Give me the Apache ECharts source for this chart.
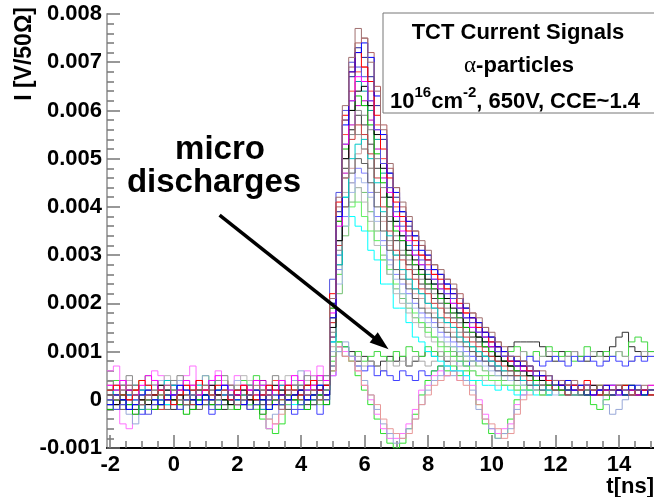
<!DOCTYPE html>
<html><head><meta charset="utf-8">
<script src="https://cdn.jsdelivr.net/npm/echarts@6/dist/echarts.min.js"></script>
<style>html,body{margin:0;padding:0;background:#fff}#c{width:654px;height:497px}</style>
</head><body><div id="c"></div>
<script>
// Histogram binning (ns)
const binStart = -2.1;
const binWidth = 0.2;
const nBins = 86;

// Current traces, amplitude in units of 1e-4 V/50Ω, one value per 0.2 ns bin
// main alpha signals
const m01 = [1,0,2,3,1,-1,0,2,1,3, 2,0,-1,1,2,3,1,0,2,1, -1,0,1,3,2,1,0,-2,1,2, 3,1,2,0,2,
  21,42,61,71,77,75,70,64,56,49, 44,41,38,35,33,31,28,27,25,24, 21,20,18,17,15,14,12,11,9,9, 8,7,6,6,5,4,4,3,4,2, 3,2,3,1,2,3,2,1,2,3,2];
const m02 = [-1,1,0,-2,-1,1,2,0,-1,0, 1,3,2,0,-1,1,0,2,3,1, 0,-1,1,2,0,-2,-1,1,0,1, 2,0,1,3,1,
  17,38,57,68,72,74,71,63,55,47, 43,39,37,34,31,30,27,26,24,22, 21,19,17,16,14,13,11,10,9,8, 7,7,6,5,5,4,3,4,2,3, 3,1,2,3,2,2,1,3,2,1,2];
const m03 = [2,3,1,0,2,4,3,1,2,0, -1,1,3,2,4,2,1,3,2,0, 2,3,1,0,1,3,2,1,3,2, 1,3,4,2,3,
  22,41,59,68,72,69,66,59,52,46, 41,38,35,33,30,29,26,25,23,22, 20,18,17,15,14,12,11,10,8,8, 7,6,6,5,4,4,3,3,3,2, 4,2,1,3,2,2,3,1,2,2,1];
const m04 = [0,-2,-1,1,0,-1,-3,-1,0,1, -1,-2,0,1,-1,0,-2,-1,1,0, -1,0,-2,-1,1,0,1,-1,0,-2, -1,1,0,2,0,
  25,43,60,70,69,67,62,56,49,44, 39,36,34,31,29,27,25,24,22,21, 19,17,16,14,13,12,10,9,8,7, 7,6,5,5,4,3,4,2,3,3, 1,2,2,3,1,2,2,1,3,2,2];
const m05 = [3,2,4,2,1,3,5,4,2,3, 1,2,4,3,1,2,4,5,3,2, 1,3,2,4,3,1,2,4,3,5, 4,2,3,5,4,
  18,36,53,62,67,66,62,56,49,43, 38,35,33,30,28,27,25,23,22,20, 19,17,15,14,13,11,10,9,8,7, 6,6,5,5,4,4,3,3,2,2, 3,1,2,2,3,1,2,2,1,2,3];
const m06 = [1,-1,0,2,1,0,-1,1,3,2, 0,1,-1,0,2,1,3,1,0,-1, 1,2,0,-1,0,1,3,2,0,1, 2,3,1,2,3,
  15,33,50,60,64,65,61,55,48,42, 37,34,31,29,27,25,24,22,21,19, 18,16,15,13,12,11,9,8,7,7, 6,5,5,4,4,3,3,2,3,2, 1,3,2,2,1,2,3,2,1,2,2];
const m07 = [-2,0,1,-1,-3,-1,0,-2,-1,1, 0,-1,-3,-2,0,1,-1,-2,0,-1, -2,0,1,-1,-3,-2,0,-1,1,0, -1,-2,0,1,-1,
  19,37,52,60,63,61,57,51,45,40, 35,33,30,28,26,24,23,21,20,18, 17,15,14,13,11,10,9,8,7,6, 6,5,4,4,3,3,2,3,2,2, 1,2,3,1,2,2,1,3,2,1,2];
const m08 = [4,2,3,5,3,1,2,4,3,2, 4,5,3,2,1,3,2,4,5,3, 2,1,3,4,2,3,5,4,2,3, 4,5,3,4,5,
  14,31,46,55,60,59,56,50,44,38, 34,31,29,27,25,23,22,20,19,17, 16,14,13,12,11,10,9,8,7,6, 5,5,4,3,3,3,2,2,1,3, 2,2,1,2,2,3,1,2,2,1,2];
const m09 = [0,1,-1,0,2,0,1,-1,-2,0, 1,2,0,-1,1,0,-1,1,2,0, 1,-1,0,2,1,0,-1,0,1,2, 0,1,2,0,1,
  16,32,46,54,57,55,51,46,40,35, 31,29,27,25,23,22,20,19,17,16, 15,13,12,11,10,9,8,7,6,5, 5,4,4,3,3,2,2,1,2,2, 3,1,2,1,2,2,1,2,1,2,1];
const m10 = [2,1,0,1,3,2,0,1,2,4, 3,1,0,2,1,3,4,2,1,0, 2,1,3,2,0,1,2,3,1,2, 3,2,4,3,2,
  12,28,42,50,53,54,50,45,39,34, 30,27,25,23,22,20,19,17,16,15, 13,12,11,10,9,8,7,6,6,5, 4,4,3,3,2,2,3,2,1,2, 1,2,2,1,3,1,2,1,2,1,1];
const m11 = [-1,0,-2,-1,1,-1,0,1,-1,-2, 0,-1,1,0,-2,-1,0,1,-1,0, 1,-1,-2,0,-1,1,0,-1,-2,0, 1,0,-1,1,2,
  13,28,40,47,50,49,45,40,35,31, 27,25,23,21,19,18,17,15,14,13, 12,11,10,9,8,7,6,5,5,4, 4,3,3,2,3,2,2,1,2,1, 2,1,1,2,1,2,1,1,2,1,2];
const m12 = [1,3,2,1,0,2,1,3,4,2, 1,0,2,3,1,2,0,1,3,2, 4,2,1,0,2,3,1,2,0,1, 3,2,1,3,2,
  10,24,36,43,46,45,42,37,32,28, 25,22,20,19,17,16,15,13,12,11, 10,9,8,8,7,6,5,5,4,4, 3,3,2,2,2,1,2,1,2,1, 1,2,1,1,2,1,1,2,1,1,1];
const m13 = [2,1,3,0,-1,1,2,3,1,0, -1,1,2,0,3,2,1,-1,0,2, 3,1,0,2,1,-1,1,2,3,1, 0,2,3,1,2,
  19,40,58,69,74,75,72,65,57,48, 44,40,37,35,32,30,28,26,25,23, 22,19,18,16,15,13,12,10,9,8, 8,7,6,5,5,4,3,3,2,3, 2,3,1,2,2,3,2,1,2,2,3];
const m14 = [-1,0,1,-2,0,2,1,-1,0,1, 3,1,0,-1,1,2,0,1,-1,0, 2,1,-1,0,1,2,0,-1,1,3, 2,0,1,2,1,
  20,39,58,67,73,71,67,61,54,47, 42,39,36,34,32,29,27,26,24,23, 21,19,17,16,14,13,11,10,9,8, 8,6,6,5,4,4,3,3,2,2, 3,2,1,2,3,2,1,2,2,1,2];
const m15 = [3,1,2,0,2,1,3,4,2,1, 0,2,1,3,2,0,1,2,4,3, 1,2,0,1,3,2,4,1,2,0, 2,1,3,2,3,
  16,37,55,64,68,69,64,57,50,44, 40,37,34,32,30,28,26,24,23,21, 19,18,16,15,13,12,11,9,8,7, 7,6,5,4,4,3,3,2,3,2, 2,1,3,2,1,2,2,3,1,2,2];
const m16 = [0,2,-1,1,0,-2,1,0,2,-1, 1,0,-1,2,0,1,-1,0,1,2, 0,-1,1,0,-2,0,1,2,0,1, -1,1,0,1,2,
  20,38,53,62,66,64,60,54,47,42, 37,34,32,30,28,26,24,23,21,20, 18,17,15,14,12,11,10,9,8,7, 6,6,5,4,4,3,3,2,2,2, 3,1,2,2,1,2,1,3,2,1,2];
const m17 = [1,3,2,4,2,0,1,3,2,1, 3,2,0,1,4,2,3,1,0,2, 1,3,2,1,4,2,0,3,2,1, 2,4,2,3,2,
  13,30,47,57,61,62,58,52,46,40, 36,33,30,28,26,24,23,21,20,18, 17,15,14,13,11,10,9,8,7,6, 6,5,4,4,3,3,2,2,3,1, 2,2,1,2,3,1,2,2,1,2,1];
const m18 = [-2,-1,0,1,-1,0,-2,1,0,-1, 0,1,-1,-2,0,-1,1,0,-1,0, -1,1,0,-2,-1,0,1,-1,0,1, 0,-1,1,0,1,
  17,33,48,56,59,57,53,48,42,37, 33,30,28,26,24,23,21,20,18,17, 16,14,13,12,11,9,8,8,7,6, 5,5,4,3,3,2,3,2,2,1, 2,2,1,2,1,2,2,1,2,1,1];
const m19 = [2,0,1,3,1,2,0,1,3,2, 0,1,2,1,-1,0,2,3,1,0, 2,1,3,0,1,2,1,0,2,3, 1,2,0,3,2,
  20,37,50,56,55,52,48,43,38,33, 30,27,25,23,22,20,19,17,16,15, 14,12,11,10,9,8,7,6,6,5, 4,4,3,3,2,2,2,1,2,2, 1,2,1,2,2,1,1,2,1,2,1];
const m20 = [1,-1,0,2,3,1,-1,0,1,2, 0,-1,1,3,1,0,2,1,-1,1, 0,2,1,-1,0,1,3,2,0,1, 2,1,0,2,1,
  11,26,40,48,51,52,48,43,37,32, 29,26,24,22,21,19,18,16,15,14, 13,12,10,9,9,8,7,6,5,5, 4,4,3,3,2,2,2,1,2,1, 2,1,2,1,1,2,1,2,1,1,2];
const m21 = [0,1,3,2,0,1,2,0,-1,1, 2,3,1,0,1,2,0,2,3,1, -1,0,2,1,0,3,1,2,1,0, 3,2,1,2,3,
  12,27,38,45,48,47,43,38,33,29, 26,24,22,20,18,17,16,14,13,12, 11,10,9,8,8,7,6,5,5,4, 4,3,3,2,2,2,1,2,1,1, 2,1,1,2,1,1,2,1,1,2,1];
const m22 = [-1,0,2,1,-1,0,1,-1,0,2, 1,-1,0,1,2,0,-1,1,0,-2, 0,1,-1,0,2,1,0,-1,1,0, 2,0,1,-1,1,
  9,22,34,41,44,43,39,35,30,26, 23,21,19,17,16,15,13,12,11,10, 9,8,8,7,6,5,5,4,4,3, 3,2,2,2,1,2,1,1,2,1, 1,1,2,1,1,2,1,1,1,2,1];
// reduced signals
const i01 = [0,2,1,-1,0,1,3,2,0,-1, 1,2,0,1,3,1,-1,0,2,1, 0,-1,1,2,3,1,0,2,1,-1, 0,2,1,3,2,
  12,30,42,38,36,35,31,29,24,24, 19,19,16,13,12,10,9,8,7,6, 6,5,4,4,3,3,2,3,2,1, 2,2,1,2,1,2,1,1,2,1, 2,1,1,2,1,1,2,1,1,2,1];
const i02 = [3,1,2,4,3,1,0,2,3,5, 4,2,1,3,2,0,1,3,4,2, 3,5,4,2,1,3,2,4,5,3, 2,4,3,5,4,
  15,33,43,45,44,41,37,32,29,26, 22,20,18,16,15,13,12,10,9,8, 7,7,6,5,4,4,3,3,3,2, 2,3,2,1,2,2,1,2,1,2, 1,2,2,1,1,2,1,2,1,1,2];
const i03 = [1,0,-1,1,2,0,-2,-1,1,0, 2,1,-1,0,1,-1,0,2,1,-1, 0,1,-1,-2,0,1,2,0,-1,1, 0,2,1,0,2,
  10,26,36,40,41,38,35,33,29,27, 24,22,20,18,16,14,13,11,10,9, 8,7,6,5,5,4,4,3,3,2, 3,2,2,1,2,2,1,2,1,1, 2,1,2,1,1,2,1,1,2,1,1];
// micro discharges (dips)
const d01 = [-1,1,0,2,-1,0,1,-2,0,1, 2,0,-1,1,0,2,1,-1,0,1, 0,2,1,-1,-4,-6,-7,-5,-2,0, 1,2,0,1,2,
  6,12,11,8,5,2,-1,-4,-7,-9, -10,-9,-6,-3,1,4,6,7,6,7, 5,6,4,-1,-5,-7,-8,-7,-4,0, 2,3,2,1,3,2,1,3,2,1, 2,-1,-2,0,2,1,3,2,1,2,2];
const d02 = [6,7,-5,-6,-3,2,3,6,5,4, 4,2,5,7,3,1,4,6,2,3, 5,3,1,0,-3,-6,-5,-2,1,3, 4,6,5,7,3,
  5,11,10,9,6,3,0,-3,-6,-8, -8,-7,-5,-2,2,3,5,6,5,6, 4,5,3,0,-3,-6,-7,-6,-5,-1, 1,3,2,3,1,2,4,2,3,1, 2,3,2,1,2,3,2,1,3,2,1];
const d03 = [1,3,0,-3,-5,-2,1,0,2,3, 1,4,2,0,3,5,2,1,4,3, 0,2,3,1,-2,-4,-3,-1,2,4, 6,3,2,4,5,
  7,10,12,9,7,4,1,-2,-5,-7, -9,-8,-6,-4,-1,2,4,5,7,5, 6,4,2,-2,-4,-6,-8,-7,-6,-2, 1,2,3,2,1,3,2,4,2,1, 3,2,1,-1,-3,-2,0,2,3,1,2];
const d04 = [2,0,1,3,2,-1,0,2,1,-1, 0,2,3,1,-1,0,2,1,3,0, -1,1,2,0,1,-4,-5,-3,0,2, 1,3,2,0,3,
  6,11,9,8,6,3,1,-1,-4,-6, -7,-8,-7,-4,-1,1,3,4,5,6, 4,3,1,-1,-4,-5,-6,-8,-7,-3, 0,1,2,1,2,3,1,2,1,2, 3,1,2,2,1,3,2,1,2,1,2];
// micro discharges (plateau)
const p01 = [0,-1,1,0,-2,-1,0,1,-1,0, -2,0,1,-1,0,2,0,-1,-2,0, 1,0,-1,0,2,1,-1,-2,0,1, -1,0,-1,1,0,
  7,11,9,10,8,9,8,7,8,9, 8,9,7,8,9,10,9,10,8,9, 10,9,8,10,9,9,10,9,11,12, 12,12,12,11,9,8,10,9,10,9, 8,9,10,9,11,13,14,11,10,9,10];
const p02 = [2,4,3,1,2,4,5,3,2,1, 3,4,2,1,3,5,4,2,3,1, 2,4,3,5,3,2,4,1,3,2, 4,3,5,2,4,
  8,12,11,9,10,8,9,10,9,8, 10,9,11,10,9,11,10,9,10,11, 10,9,11,10,9,10,11,9,10,11, 10,9,10,9,11,10,9,10,8,9, 11,10,9,10,9,10,9,12,13,12,10];
const p03 = [1,2,0,1,3,2,1,0,-1,1, 2,3,1,0,2,1,0,-1,1,3, 2,0,1,2,-1,0,1,3,2,0, 1,-1,2,1,3,
  6,10,9,8,9,7,8,7,6,8, 7,8,7,9,8,7,8,9,7,8, 9,8,7,8,9,8,10,9,8,9, 10,9,8,9,10,9,8,9,10,8, 9,10,9,8,9,10,9,8,9,10,9];
const p04 = [-1,-2,0,1,-1,-3,-2,0,-1,1, 0,-2,-1,1,0,-1,-3,-2,0,1, -1,0,2,0,-2,-1,0,1,-1,-3, -2,0,-1,-3,-1,
  5,10,11,9,7,6,7,5,6,5, 4,6,5,4,6,5,6,7,5,6, 8,7,9,8,9,8,7,9,8,7, 8,9,8,7,8,9,8,7,9,8, 9,8,7,8,9,8,7,8,9,8,9];

const xTickLabels = [-2, 0, 2, 4, 6, 8, 10, 12, 14];
const xMinorTicks = [-1.5,-1,-0.5,0.5,1,1.5,2.5,3,3.5,4.5,5,5.5,6.5,7,7.5,8.5,9,9.5,10.5,11,11.5,12.5,13,13.5,14.5,15];

const traces = [
  ['p01', p01, '#303030'], ['p02', p02, '#40d840'], ['p03', p03, '#a8a8a8'], ['p04', p04, '#4040ff'],
  ['d01', d01, '#30e030'], ['d02', d02, '#ff70ff'], ['d03', d03, '#98a8d8'], ['d04', d04, '#e89898'],
  ['m22', m22, '#70c070'], ['m21', m21, '#8080ff'], ['m20', m20, '#d0a0a0'], ['m19', m19, '#909090'],
  ['m18', m18, '#404040'], ['m17', m17, '#c000c0'], ['m16', m16, '#00a0a0'], ['m15', m15, '#ff4040'],
  ['m14', m14, '#2020a0'], ['m13', m13, '#b06060'],
  ['i01', i01, '#00ffff'], ['i02', i02, '#b8b8b8'], ['i03', i03, '#60f060'],
  ['m12', m12, '#a8b8e8'], ['m11', m11, '#606060'], ['m10', m10, '#00c8c8'], ['m09', m09, '#c83c3c'],
  ['m08', m08, '#888888'], ['m07', m07, '#00c000'], ['m06', m06, '#000000'], ['m05', m05, '#ff00ff'],
  ['m04', m04, '#5050e0'], ['m03', m03, '#ff0000'], ['m02', m02, '#0000ff'], ['m01', m01, '#a07070']
];

const font = "'Liberation Sans', Arial, Helvetica, sans-serif";
const bad = [];
const series = traces.map(function (t, k) {
  const vals = t[1];
  if (vals.length !== nBins) bad.push(t[0] + ':' + vals.length);
  const pts = vals.map(function (v, i) { return [binStart + i * binWidth, v * 1e-4]; });
  pts.push([binStart + vals.length * binWidth, vals[vals.length - 1] * 1e-4]);
  const s = {
    name: t[0], type: 'line', step: 'end', data: pts, symbol: 'none',
    lineStyle: { color: t[2], width: 1 }, itemStyle: { color: t[2] },
    animation: false, silent: true, clip: true, z: 2
  };
  if (k === 0) {
    s.markLine = {
      silent: true, animation: false, symbol: ['none', 'triangle'], symbolSize: [13, 19],
      label: { show: false },
      lineStyle: { color: '#000', width: 3.5, type: 'solid' },
      itemStyle: { color: '#000' },
      data: [[{ coord: [1.44, 0.00383] }, { coord: [6.52, 0.00117] }]],
      z: 20
    };
  }
  return s;
});

const chart = echarts.init(document.getElementById('c'), null, { renderer: 'canvas' });
chart.setOption({
  backgroundColor: '#fff',
  animation: false,
  grid: { left: 107, top: 14, width: 549, height: 434, containLabel: false },
  xAxis: [{
    type: 'value', min: binStart, max: binStart + nBins * binWidth, position: 'bottom',
    axisLine: { show: true, onZero: false, lineStyle: { color: '#000', width: 2 } },
    axisTick: { show: true, inside: true, length: 13, customValues: xTickLabels, lineStyle: { color: '#777', width: 1.5 } },
    axisLabel: { show: true, customValues: xTickLabels, margin: 6, color: '#000', fontWeight: 'bold', fontSize: 22, fontFamily: font },
    splitLine: { show: false }
  }, {
    type: 'value', min: binStart, max: binStart + nBins * binWidth, position: 'bottom',
    axisLine: { show: false, onZero: false },
    axisTick: { show: true, inside: true, length: 7, customValues: xMinorTicks, lineStyle: { color: '#777', width: 1.5 } },
    axisLabel: { show: false },
    splitLine: { show: false }
  }],
  yAxis: {
    type: 'value', min: -0.001, max: 0.008, interval: 0.001,
    axisLine: { show: true, onZero: false, lineStyle: { color: '#aaa', width: 2 } },
    axisTick: { show: true, inside: true, length: 13, lineStyle: { color: '#777', width: 1.5 } },
    minorTick: { show: true, splitNumber: 5, length: 7, lineStyle: { color: '#777', width: 1.5 } },
    axisLabel: {
      margin: 5, color: '#000', fontWeight: 'bold', fontSize: 22, fontFamily: font,
      formatter: function (v) { return Math.abs(v) < 1e-9 ? '0' : v.toFixed(3); }
    },
    splitLine: { show: false }
  },
  series: series,
  graphic: [
    { type: 'text', x: 25, y: 7, rotation: Math.PI / 2, z: 50,
      style: { text: 'I [V/50Ω]', font: 'bold 23px ' + font, fill: '#000', align: 'right', verticalAlign: 'middle', textAlign: 'right', textVerticalAlign: 'middle' } },
    { type: 'text', x: 654, y: 487, z: 50,
      style: { text: 't[ns]', font: 'bold 22px ' + font, fill: '#000', align: 'right', verticalAlign: 'middle', textAlign: 'right', textVerticalAlign: 'middle' } },
    { type: 'text', x: 220, y: 150, z: 50,
      style: { text: 'micro', font: 'bold 33px ' + font, fill: '#000', align: 'center', verticalAlign: 'middle', textAlign: 'center', textVerticalAlign: 'middle' } },
    { type: 'text', x: 214, y: 183, z: 50,
      style: { text: 'discharges', font: 'bold 33px ' + font, fill: '#000', align: 'center', verticalAlign: 'middle', textAlign: 'center', textVerticalAlign: 'middle' } },
    { type: 'rect', z: 60, shape: { x: 383, y: 13, width: 300, height: 100 },
      style: { fill: '#fff', stroke: '#777', lineWidth: 1 } },
    { type: 'text', x: 518, y: 33, z: 61,
      style: { text: 'TCT Current Signals', font: 'bold 22px ' + font, fill: '#000', align: 'center', verticalAlign: 'middle', textAlign: 'center', textVerticalAlign: 'middle' } },
    { type: 'text', x: 519, y: 66, z: 61,
      style: {
        text: '{a|α}{b|-particles}', align: 'center', verticalAlign: 'middle', textAlign: 'center', textVerticalAlign: 'middle',
        rich: {
          a: { font: '23px "Liberation Serif", "Times New Roman", serif', fill: '#000' },
          b: { font: 'bold 22px ' + font, fill: '#000' }
        }
      } },
    { type: 'text', x: 515, y: 99, z: 61,
      style: {
        text: '{b|10}{s|16}{b|cm}{s|-2}{b|, 650V, CCE~1.4}', align: 'center', verticalAlign: 'middle', textAlign: 'center', textVerticalAlign: 'middle',
        rich: {
          b: { font: 'bold 22px ' + font, fill: '#000', lineHeight: 27, verticalAlign: 'bottom' },
          s: { font: 'bold 15px ' + font, fill: '#000', lineHeight: 27, verticalAlign: 'top' }
        }
      } },
    { type: 'text', x: 10, y: 490, z: 99, style: { text: bad.join(' '), font: '12px sans-serif', fill: '#f00' } }
  ]
});
</script>
</body></html>
